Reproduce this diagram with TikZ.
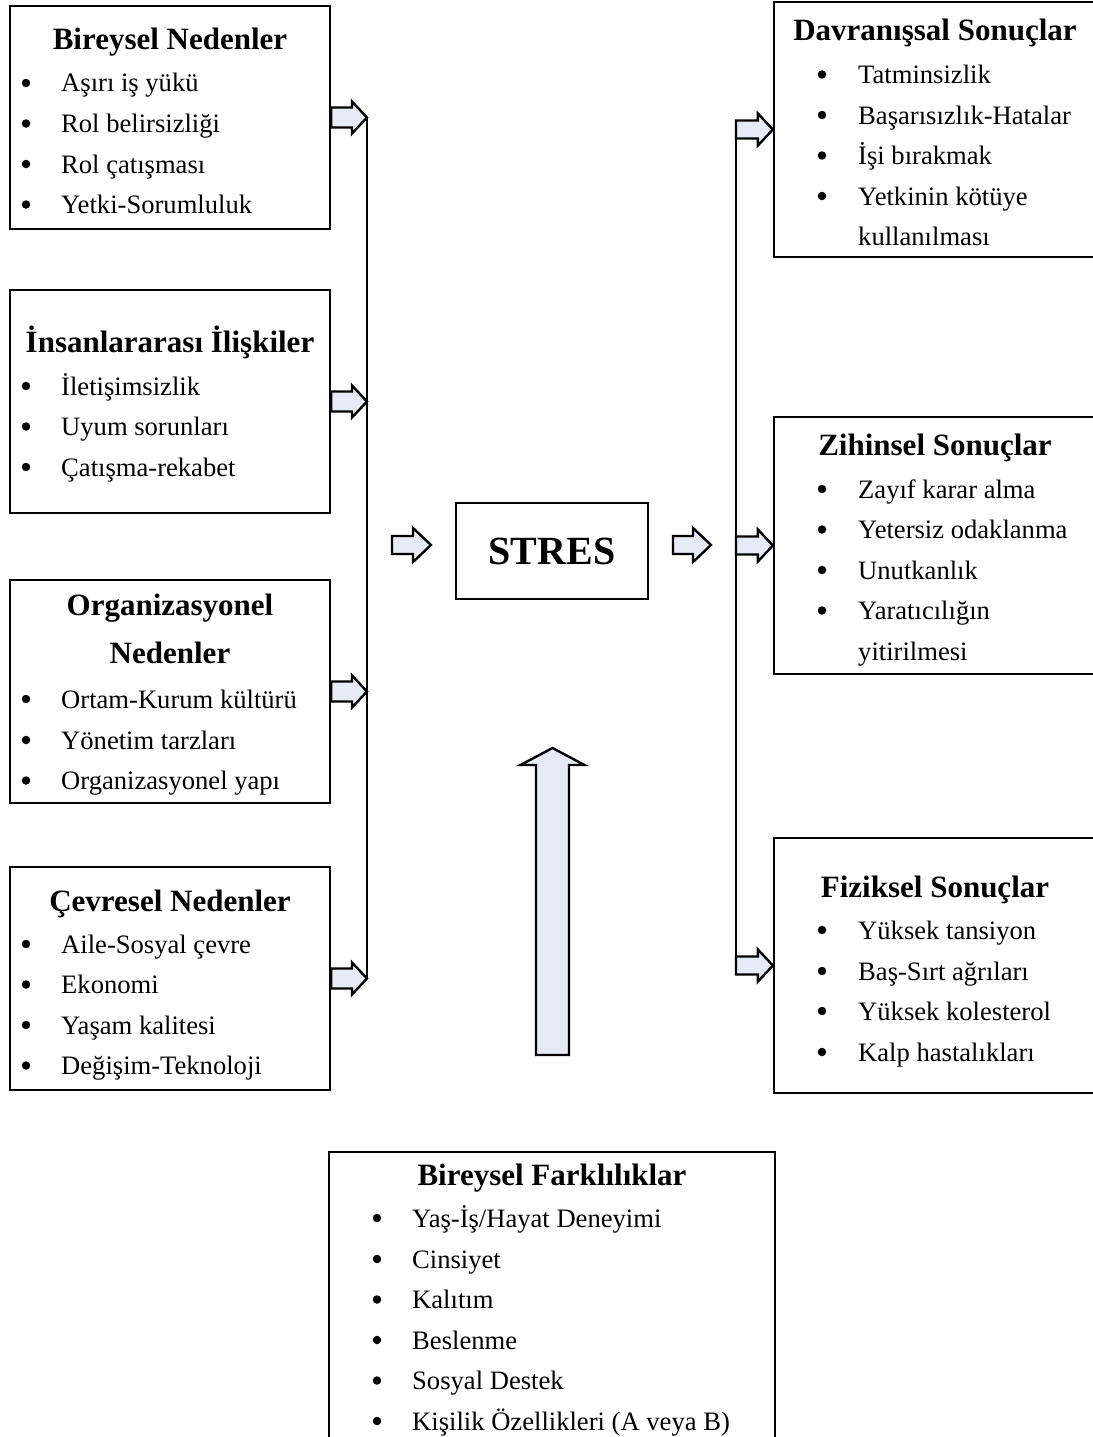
\documentclass[tikz,border=0pt]{standalone}
\usepackage{fontspec}
\setmainfont{Liberation Serif}
\usetikzlibrary{calc}
\definecolor{arrfill}{HTML}{E4EAF6}
\newcommand\bodyfont{\fontsize{26.6pt}{40pt}\selectfont}
\newcommand\headfont{\fontsize{31pt}{40pt}\selectfont\bfseries}
\newcommand\stresfont{\fontsize{40pt}{44pt}\selectfont\bfseries}
\tikzset{
  box/.style={draw=black, line width=2.2pt, inner sep=0pt},
  txt/.style={inner sep=0pt, anchor=base west, font=\bodyfont},
  bul/.style={circle, fill=black, inner sep=0pt, minimum size=8.5pt},
  head/.style={inner sep=0pt, anchor=base, font=\headfont},
  arr/.style={draw=black, line width=2.4pt, fill=arrfill, line join=miter},
  bus/.style={draw=black, line width=2.4pt}
}
% item: name, bullet x, text x, baseline y, text
\newcommand\itm[5]{\node[bul] (#1b) at (#2,#4-9) {}; \node[txt] (#1) at (#3,#4) {#5};}
% horizontal block arrow: start, tip, head length, shaft half, head half
\newcommand\blockarr[5]{\draw[arr] ($(#1)+(0,-#4)$) -- ($(#2)+(-#3,-#4)$) -- ($(#2)+(-#3,-#5)$) -- (#2) -- ($(#2)+(-#3,#5)$) -- ($(#2)+(-#3,#4)$) -- ($(#1)+(0,#4)$) -- cycle;}
\begin{document}
\begin{tikzpicture}[x=1pt,y=-1pt]
\useasboundingbox[fill=white] (0,0) rectangle (1092,1437);

% ---------- left boxes ----------
\node[box, minimum width=320pt, minimum height=223pt] (b1) at (170,117.5) {};
\node[head] (b1h) at (170,50) {Bireysel Nedenler};
\itm{b1i1}{26}{61}{92}{Aşırı iş yükü}
\itm{b1i2}{26}{61}{132.5}{Rol belirsizliği}
\itm{b1i3}{26}{61}{173}{Rol çatışması}
\itm{b1i4}{26}{61}{213.5}{Yetki-Sorumluluk}

\node[box, minimum width=320pt, minimum height=223pt] (b2) at (170,401.5) {};
\node[head] (b2h) at (170,352) {İnsanlararası İlişkiler};
\itm{b2i1}{26}{61}{395}{İletişimsizlik}
\itm{b2i2}{26}{61}{435.5}{Uyum sorunları}
\itm{b2i3}{26}{61}{476}{Çatışma-rekabet}

\node[box, minimum width=320pt, minimum height=223pt] (b3) at (170,691.5) {};
\node[head] (b3h) at (170,615) {Organizasyonel};
\node[head] (b3h2) at (170,663) {Nedenler};
\itm{b3i1}{26}{61}{708}{Ortam-Kurum kültürü}
\itm{b3i2}{26}{61}{749}{Yönetim tarzları}
\itm{b3i3}{26}{61}{789.5}{Organizasyonel yapı}

\node[box, minimum width=320pt, minimum height=223pt] (b4) at (170,978.5) {};
\node[head] (b4h) at (170,911) {Çevresel Nedenler};
\itm{b4i1}{26}{61}{953}{Aile-Sosyal çevre}
\itm{b4i2}{26}{61}{993.5}{Ekonomi}
\itm{b4i3}{26}{61}{1034}{Yaşam kalitesi}
\itm{b4i4}{26}{61}{1074.5}{Değişim-Teknoloji}

% ---------- right boxes ----------
\node[box, minimum width=323pt, minimum height=255pt] (r1) at (935.5,129.5) {};
\node[head] (r1h) at (935,41) {Davranışsal Sonuçlar};
\itm{r1i1}{822}{858}{83.5}{Tatminsizlik}
\itm{r1i2}{822}{858}{124}{Başarısızlık-Hatalar}
\itm{r1i3}{822}{858}{164.5}{İşi bırakmak}
\itm{r1i4}{822}{858}{205}{Yetkinin kötüye}
\node[txt] (r1i5) at (858,245.5) {kullanılması};

\node[box, minimum width=323pt, minimum height=257pt] (r2) at (935.5,545.5) {};
\node[head] (r2h) at (935,455) {Zihinsel Sonuçlar};
\itm{r2i1}{822}{858}{498}{Zayıf karar alma}
\itm{r2i2}{822}{858}{538.5}{Yetersiz odaklanma}
\itm{r2i3}{822}{858}{579}{Unutkanlık}
\itm{r2i4}{822}{858}{619.5}{Yaratıcılığın}
\node[txt] (r2i5) at (858,660) {yitirilmesi};

\node[box, minimum width=323pt, minimum height=255pt] (r3) at (935.5,965.5) {};
\node[head] (r3h) at (935,897) {Fiziksel Sonuçlar};
\itm{r3i1}{822}{858}{939}{Yüksek tansiyon}
\itm{r3i2}{822}{858}{980}{Baş-Sırt ağrıları}
\itm{r3i3}{822}{858}{1020}{Yüksek kolesterol}
\itm{r3i4}{822}{858}{1061}{Kalp hastalıkları}

% ---------- centre ----------
\node[box, minimum width=192pt, minimum height=96pt] (stres) at (552,551) {};
\node[inner sep=0pt, font=\stresfont] (strest) at (552,551) {STRES};

% ---------- bottom box ----------
\node[box, minimum width=446pt, minimum height=293pt] (bf) at (552,1298.5) {};
\node[head] (bfh) at (552,1185) {Bireysel Farklılıklar};
\itm{bfi1}{377}{412}{1227}{Yaş-İş/Hayat Deneyimi}
\itm{bfi2}{377}{412}{1268}{Cinsiyet}
\itm{bfi3}{377}{412}{1308.5}{Kalıtım}
\itm{bfi4}{377}{412}{1349}{Beslenme}
\itm{bfi5}{377}{412}{1389.5}{Sosyal Destek}
\itm{bfi6}{377}{412}{1430}{Kişilik Özellikleri (A veya B)}

% ---------- buses ----------
\coordinate (busLtop) at (367,117.5);
\coordinate (busLbot) at (367,978.5);
\coordinate (busRtop) at (736,121);
\coordinate (busRbot) at (736,974.5);
\draw[bus] (busLtop) -- (busLbot);
\draw[bus] (busRtop) -- (busRbot);

\coordinate (tL1) at (b1.east -| busLtop);
\coordinate (tL2) at (b2.east -| busLtop);
\coordinate (tL3) at (b3.east -| busLtop);
\coordinate (tL4) at (b4.east -| busLtop);
\blockarr{b1.east}{tL1}{15}{10}{16}
\blockarr{b2.east}{tL2}{15}{10}{16}
\blockarr{b3.east}{tL3}{15}{10}{16}
\blockarr{b4.east}{tL4}{15}{10}{16}

\coordinate (sR1) at (r1.west -| busRtop);
\coordinate (sR2) at (r2.west -| busRtop);
\coordinate (sR3) at (r3.west -| busRtop);
\blockarr{sR1}{r1.west}{15}{9}{16}
\blockarr{sR2}{r2.west}{15}{9}{16}
\blockarr{sR3}{r3.west}{15}{9}{16}

% ---------- small arrows ----------
\coordinate (saL) at (392,545);
\coordinate (saLt) at (431,545);
\coordinate (saR) at (673,545);
\coordinate (saRt) at (711,545);
\blockarr{saL}{saLt}{18}{9}{17}
\blockarr{saR}{saRt}{18}{9}{17}

% ---------- up arrow ----------
\coordinate (upb) at (552.5,1055);
\coordinate (upt) at (552.5,748);
\draw[arr] ($(upb)+(-16.5,0)$) -- ($(upt)+(-16.5,17)$) -- ($(upt)+(-32,17)$) -- (upt) -- ($(upt)+(32,17)$) -- ($(upt)+(16.5,17)$) -- ($(upb)+(16.5,0)$) -- cycle;
\end{tikzpicture}
\end{document}
